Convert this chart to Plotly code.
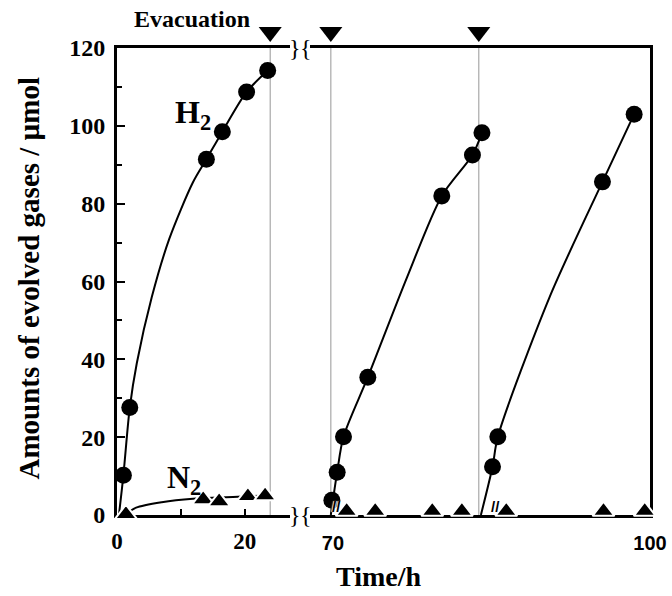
import plotly.graph_objects as go

# ---------------- data ----------------
# first run (left panel, 0-27 h)
h2_left_t = [1.0, 2.0, 14.0, 16.5, 20.3, 23.6]
h2_left_y = [10.2, 27.6, 91.4, 98.5, 108.7, 114.2]
h2_left_fit_t = [0.3, 1.0, 2.0, 3.1, 5.45, 8.2, 11.9, 14.0, 16.5, 20.3, 23.6]
h2_left_fit_y = [0.0, 10.2, 27.6, 39.0, 56.0, 71.0, 85.5, 91.4, 98.5, 108.7, 114.2]
n2_left_t = [1.4, 13.5, 16.0, 20.5, 23.2]
n2_left_y = [0.2, 4.0, 3.5, 4.8, 5.0]
n2_left_fit_t = [1.4, 3.0, 7.0, 11.9, 16.0, 20.5, 23.2]
n2_left_fit_y = [0.2, 1.9, 3.3, 4.2, 4.5, 4.8, 5.0]

# second and third runs (right panel, 68-100 h)
h2_run2_t = [69.9, 70.4, 71.0, 73.3, 80.3, 83.2, 84.1]
h2_run2_y = [3.8, 11.0, 20.1, 35.4, 82.0, 92.5, 98.2]
h2_run2_fit_t = [69.8, 70.4, 71.0, 73.3, 77.0, 80.3, 83.2, 84.1]
h2_run2_fit_y = [0.0, 11.0, 20.1, 35.4, 61.0, 82.0, 92.5, 98.2]
h2_run3_t = [85.1, 85.6, 95.5, 98.5]
h2_run3_y = [12.4, 20.1, 85.6, 103.0]
h2_run3_fit_t = [84.0, 85.1, 85.6, 90.5, 95.5, 98.5]
h2_run3_fit_y = [0.0, 12.4, 20.1, 56.0, 85.6, 103.0]
n2_right_t = [71.3, 74.0, 79.4, 82.2, 86.4, 95.6, 99.5]
n2_right_y = [1.0, 1.0, 1.0, 1.0, 1.0, 1.0, 1.0]

# evacuation times
evac_left_t = [24.0]
evac_right_t = [69.8, 83.8]

# axis tick labels
y_ticks = [0, 20, 40, 60, 80, 100, 120]
x_left_ticks = [0, 10, 20]
x_left_labels = ["0", "", "20"]
x_right_ticks = [70, 100]
x_right_labels = ["70", "100"]

# ---------------- figure ----------------
SERIF = "Liberation Serif"
SANS = "Liberation Sans"
EVAC_Y = 124.1
MAIN_TOP = 0.93587   # fraction of the plot height used by the 0-120 axis

fig = go.Figure()

def fit(t, y, xa, ya):
    fig.add_trace(go.Scatter(x=t, y=y, mode="lines", xaxis=xa, yaxis=ya,
                             line=dict(color="black", width=2, shape="spline", smoothing=0.8),
                             hoverinfo="skip"))

def circles(t, y, xa, ya):
    fig.add_trace(go.Scatter(x=t, y=y, mode="markers", xaxis=xa, yaxis=ya,
                             marker=dict(symbol="circle", size=17, color="black")))

def triangles(t, y, xa, ya):
    fig.add_trace(go.Scatter(x=t, y=y, mode="markers", xaxis=xa, yaxis=ya, cliponaxis=False,
                             marker=dict(symbol="triangle-up", size=19, color="black",
                                         line=dict(color="white", width=2))))

fit(h2_left_fit_t, h2_left_fit_y, "x", "y")
fit(n2_left_fit_t, n2_left_fit_y, "x", "y")
fit(h2_run2_fit_t, h2_run2_fit_y, "x2", "y2")
fit(h2_run3_fit_t, h2_run3_fit_y, "x2", "y2")

circles(h2_left_t, h2_left_y, "x", "y")
circles(h2_run2_t, h2_run2_y, "x2", "y2")
circles(h2_run3_t, h2_run3_y, "x2", "y2")

triangles(n2_left_t, n2_left_y, "x", "y")
triangles(n2_right_t, n2_right_y, "x2", "y2")

# evacuation markers in the strip above the frame
fig.add_trace(go.Scatter(x=evac_left_t, y=[EVAC_Y] * len(evac_left_t), mode="markers",
                         xaxis="x", yaxis="y3", cliponaxis=False,
                         marker=dict(symbol="triangle-down", size=20, color="black")))
fig.add_trace(go.Scatter(x=evac_right_t, y=[EVAC_Y] * len(evac_right_t), mode="markers",
                         xaxis="x2", yaxis="y4", cliponaxis=False,
                         marker=dict(symbol="triangle-down", size=20, color="black")))

shapes = []
for t in evac_left_t:
    shapes.append(dict(type="line", xref="x", yref="y domain", x0=t, x1=t, y0=0, y1=1,
                       line=dict(color="#a8a8a8", width=1.2), layer="below"))
for t in evac_right_t:
    shapes.append(dict(type="line", xref="x2", yref="y2 domain", x0=t, x1=t, y0=0, y1=1,
                       line=dict(color="#a8a8a8", width=1.2), layer="below"))

axis_common = dict(showline=True, linewidth=3, linecolor="black", showgrid=False,
                   zeroline=False, layer="below traces", automargin=False)
strip = dict(domain=[MAIN_TOP, 1], range=[120, 128.22], visible=False,
             showgrid=False, zeroline=False, automargin=False)

fig.update_layout(
    width=672, height=596,
    margin=dict(l=117, r=22, t=16, b=81, autoexpand=False),
    plot_bgcolor="white", paper_bgcolor="white",
    showlegend=False,
    xaxis=dict(domain=[0, 0.3246], range=[0, 27.1], anchor="y", mirror=True,
               ticks="inside", ticklen=6, tickwidth=2, tickcolor="black",
               tickvals=x_left_ticks, ticktext=x_left_labels, ticklabelstandoff=3,
               tickfont=dict(family=SERIF, size=23, color="black", weight="bold"),
               **axis_common),
    yaxis=dict(domain=[0, MAIN_TOP], range=[0, 120], anchor="x",
               ticks="inside", ticklen=8, tickwidth=2, tickcolor="black",
               tickvals=y_ticks, ticklabelstandoff=4,
               minor=dict(ticks="inside", ticklen=5, tickwidth=2, tickcolor="black",
                          dtick=10, tick0=0, showgrid=False),
               tickfont=dict(family=SERIF, size=24, color="black", weight="bold"),
               **axis_common),
    xaxis2=dict(domain=[0.3621, 1], range=[67.83, 100], anchor="y2", mirror=True,
                ticks="", tickvals=x_right_ticks, ticktext=x_right_labels,
                ticklabelstandoff=8, ticklabeloverflow="allow",
                tickfont=dict(family=SANS, size=20, color="black", weight="bold"),
                **axis_common),
    yaxis2=dict(domain=[0, MAIN_TOP], range=[0, 120], anchor="x2", side="right",
                ticks="", showticklabels=False, **axis_common),
    yaxis3=dict(anchor="x", **strip),
    yaxis4=dict(anchor="x2", **strip),
    shapes=shapes,
)

ann = []
ann.append(dict(text="Evacuation", xref="paper", yref="paper", x=0.2533, y=0.994,
                xanchor="right", yanchor="middle", showarrow=False,
                font=dict(family=SERIF, size=24, color="black", weight="bold")))
ann.append(dict(text="H<sub>2</sub>", xref="x", yref="y", x=8.8, y=102.8,
                xanchor="left", yanchor="middle", showarrow=False,
                font=dict(family=SERIF, size=32, color="black", weight="bold")))
ann.append(dict(text="N<sub>2</sub>", xref="x", yref="y", x=7.5, y=9.2,
                xanchor="left", yanchor="middle", showarrow=False,
                font=dict(family=SERIF, size=32, color="black", weight="bold")))
ann.append(dict(text="Time/h", xref="paper", yref="paper", x=0.4897, y=-0.124,
                xanchor="center", yanchor="middle", showarrow=False,
                font=dict(family=SERIF, size=28, color="black", weight="bold")))
ann.append(dict(text="Amounts of evolved gases / µmol", xref="paper", yref="paper",
                x=-0.165, y=0.474, textangle=-90, xanchor="center", yanchor="middle",
                showarrow=False,
                font=dict(family=SERIF, size=29, color="black", weight="bold")))
# axis-break squiggles
for yy in (0, 120):
    ann.append(dict(text="}", xref="x", yref="y", x=27.1, y=yy, xanchor="left",
                    yanchor="middle", showarrow=False, xshift=-2, borderpad=0,
                    font=dict(family=SERIF, size=24, color="black")))
    ann.append(dict(text="{", xref="x2", yref="y2", x=67.83, y=yy, xanchor="right",
                    yanchor="middle", showarrow=False, xshift=3, borderpad=0,
                    font=dict(family=SERIF, size=24, color="black")))
# curve-break marks on the baseline
for tt in (70.3, 85.4):
    ann.append(dict(text="//", xref="x2", yref="y2", x=tt, y=2.2, xanchor="center",
                    yanchor="middle", showarrow=False, borderpad=0,
                    font=dict(family=SANS, size=15, color="black", weight="bold",
                              shadow="1px 0px 1px white, -1px 0px 1px white")))
fig.update_layout(annotations=ann)

fig.write_html("out.html", config={"displayModeBar": False},
               post_script="document.body.style.margin='0px';document.body.style.padding='0px';")
